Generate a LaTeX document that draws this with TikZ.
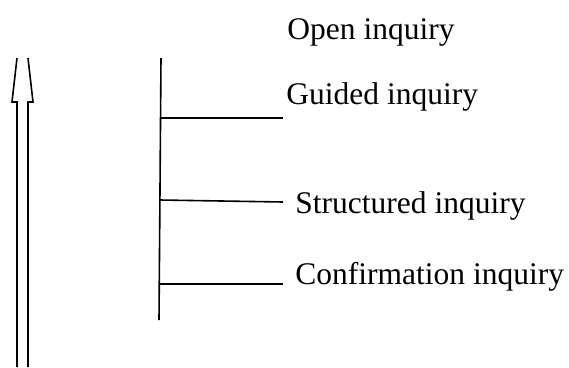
\documentclass[tikz,border=0pt]{standalone}
\usepackage{fontspec}
\setmainfont{Liberation Serif}
\usetikzlibrary{positioning}

\begin{document}
\begin{tikzpicture}[%
    x=1pt, y=-1pt,
    level/.style={anchor=base west, inner sep=0pt,
                  font=\fontsize{31.5}{36}\selectfont},
    rung/.style={line width=1.6pt},
    thick
  ]
  \useasboundingbox (0,0) rectangle (569,367);

  % the rising arrow (tip cut off at the top)
  \draw[line width=1.6pt] (17,58) -- (12,102) -- (17,102) -- (17,367);
  \draw[line width=1.6pt] (28,58) -- (33,102) -- (28,102) -- (28,367);

  % the stem and its rungs
  \coordinate (top)    at (161,58);
  \coordinate (bottom) at (159,320);
  \coordinate (g) at (161,118);
  \coordinate (s) at (160,200);
  \coordinate (c) at (159,284);
  \draw[rung] (top) -- (bottom);

  \node[level] (open)   at (287,39.5) {Open inquiry};
  \node[level] (guided) at (286,104)  {Guided inquiry};
  \node[level] (struct) at (295,213)  {Structured inquiry};
  \node[level] (conf)   at (295,284)  {Confirmation inquiry};

  \draw[rung] (g) -- (283,118);
  \draw[rung] (s) -- (283,202);
  \draw[rung] (c) -- (283,284);
\end{tikzpicture}
\end{document}
